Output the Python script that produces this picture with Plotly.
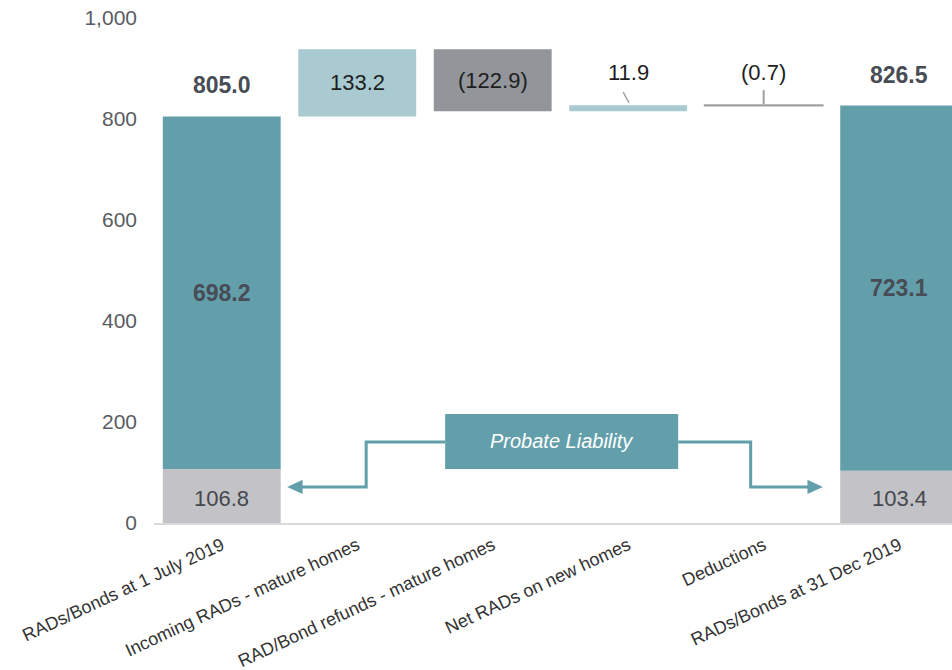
import plotly.graph_objects as go

# ---- data -------------------------------------------------------------
categories = [
    "RADs/Bonds at 1 July 2019",
    "Incoming RADs - mature homes",
    "RAD/Bond refunds - mature homes",
    "Net RADs on new homes",
    "Deductions",
    "RADs/Bonds at 31 Dec 2019",
]
opening_probate = 106.8
opening_rad = 698.2
movements = [133.2, -122.9, 11.9, -0.7]
closing_probate = 103.4
closing_rad = 723.1
y_ticks = [0, 200, 400, 600, 800, 1000]

# ---- colours ----------------------------------------------------------
TEAL = "#639FAB"
LIGHT_TEAL = "#A8CAD0"
DARK_GREY = "#929599"
PROBATE_GREY = "#C2C2C7"
LINE_GREY = "#9EA0A3"
LABEL_DARK = "#474C55"
FONT = "Liberation Sans, Arial, sans-serif"
BAR_W = 0.87

opening_total = opening_probate + opening_rad
closing_total = closing_probate + closing_rad

# running totals for the floating bars
bases = []
running = opening_total
for m in movements:
    bases.append(running)
    running += m

mid_x = [1, 2, 3, 4]
mid_colors = [LIGHT_TEAL, DARK_GREY, LIGHT_TEAL, LINE_GREY]
mid_line_w = [0, 0, 0, 2]

fig = go.Figure()

# probate portion of opening / closing balances
fig.add_trace(go.Bar(
    x=[0, 5], y=[opening_probate, closing_probate], base=[0, 0], width=BAR_W,
    marker=dict(color=PROBATE_GREY, line=dict(width=0)),
    hoverinfo="skip",
))
# RAD portion stacked on top
fig.add_trace(go.Bar(
    x=[0, 5], y=[opening_rad, closing_rad],
    base=[opening_probate, closing_probate], width=BAR_W,
    marker=dict(color=TEAL, line=dict(width=0)),
    hoverinfo="skip",
))
# movements
fig.add_trace(go.Bar(
    x=mid_x, y=movements, base=bases, width=BAR_W,
    marker=dict(color=mid_colors, line=dict(color=mid_colors, width=mid_line_w)),
    hoverinfo="skip",
))


def fmt(v):
    return f"({abs(v):.1f})" if v < 0 else f"{v:.1f}"


annotations = []
# totals above the end bars
for xi, tot in [(0, opening_total), (5, closing_total)]:
    annotations.append(dict(x=xi, y=tot, text=f"<b>{tot:.1f}</b>", showarrow=False,
                            yshift=31, font=dict(size=23, color=LABEL_DARK, family=FONT)))
# segment labels inside the end bars
for xi, pb, rad in [(0, opening_probate, opening_rad), (5, closing_probate, closing_rad)]:
    annotations.append(dict(x=xi, y=pb + rad / 2, text=f"<b>{rad:.1f}</b>", showarrow=False,
                            font=dict(size=23, color=LABEL_DARK, family=FONT)))
    annotations.append(dict(x=xi, y=pb / 2, text=f"{pb:.1f}", showarrow=False, yshift=-2,
                            font=dict(size=22, color="#45484D", family=FONT)))

# movement labels: inside the large bars, above the small ones
for xi, b, m in zip(mid_x, bases, movements):
    if abs(m) > 50:
        annotations.append(dict(x=xi, y=b + m / 2, text=fmt(m), showarrow=False,
                                font=dict(size=22, color="#1E1E1E", family=FONT)))
    else:
        top = max(b, b + m)
        annotations.append(dict(x=xi, y=top, text=fmt(m), showarrow=False, yshift=33,
                                font=dict(size=22, color="#1E1E1E", family=FONT)))

# probate liability call-out
annotations.append(dict(x=2.509, y=162, text="<i>Probate Liability</i>", showarrow=False,
                        font=dict(size=20, color="white", family=FONT)))

shapes = []
# leader lines for the small movements
shapes.append(dict(type="line", xref="x", yref="y", x0=2.963, y0=bases[2] + movements[2] + 26,
                   x1=3.006, y1=bases[2] + movements[2] + 5,
                   line=dict(color=LINE_GREY, width=1.5)))
shapes.append(dict(type="line", xref="x", yref="y", x0=4.0, y0=bases[3] + 30,
                   x1=4.0, y1=bases[3] + 2,
                   line=dict(color=LINE_GREY, width=2)))

# call-out box
shapes.append(dict(type="rect", xref="x", yref="y", x0=1.649, x1=3.369, y0=107, y1=216,
                   fillcolor=TEAL, line=dict(width=0), layer="above"))
# connector to the opening balance
shapes.append(dict(type="path", xref="x", yref="y",
                   path="M 1.649,160.5 L 1.066,160.5 L 1.066,71.5 L 0.59,71.5",
                   line=dict(color=TEAL, width=3)))
shapes.append(dict(type="path", xref="x", yref="y",
                   path="M 0.483,71.5 L 0.597,85.5 L 0.597,57.5 Z",
                   fillcolor=TEAL, line=dict(color=TEAL, width=0)))
# connector to the closing balance
shapes.append(dict(type="path", xref="x", yref="y",
                   path="M 3.369,160.5 L 3.904,160.5 L 3.904,71.5 L 4.33,71.5",
                   line=dict(color=TEAL, width=3)))
shapes.append(dict(type="path", xref="x", yref="y",
                   path="M 4.437,71.5 L 4.323,85.5 L 4.323,57.5 Z",
                   fillcolor=TEAL, line=dict(color=TEAL, width=0)))

fig.update_layout(
    width=952, height=670,
    margin=dict(l=154, r=0, t=18, b=147),
    paper_bgcolor="white", plot_bgcolor="white",
    barmode="overlay",
    showlegend=False,
    font=dict(family=FONT),
    annotations=annotations,
    shapes=shapes,
    xaxis=dict(
        range=[-0.5, 5.39], automargin=False,
        tickmode="array", tickvals=list(range(len(categories))), ticktext=categories,
        tickangle=-25, ticks="", ticklabelstandoff=3,
        tickfont=dict(size=18, color="#333333", family=FONT),
        showline=True, linecolor="#D9D9D9", linewidth=2,
        showgrid=False, zeroline=False, fixedrange=True,
    ),
    yaxis=dict(
        range=[0, 1000], automargin=False,
        tickmode="array", tickvals=y_ticks,
        ticktext=[f"{v:,}" for v in y_ticks],
        ticks="", ticklabelstandoff=16,
        tickfont=dict(size=21, color="#595C62", family=FONT),
        showline=False, showgrid=False, zeroline=False, fixedrange=True,
    ),
)

fig.write_html("out.html", config={"displayModeBar": False})
